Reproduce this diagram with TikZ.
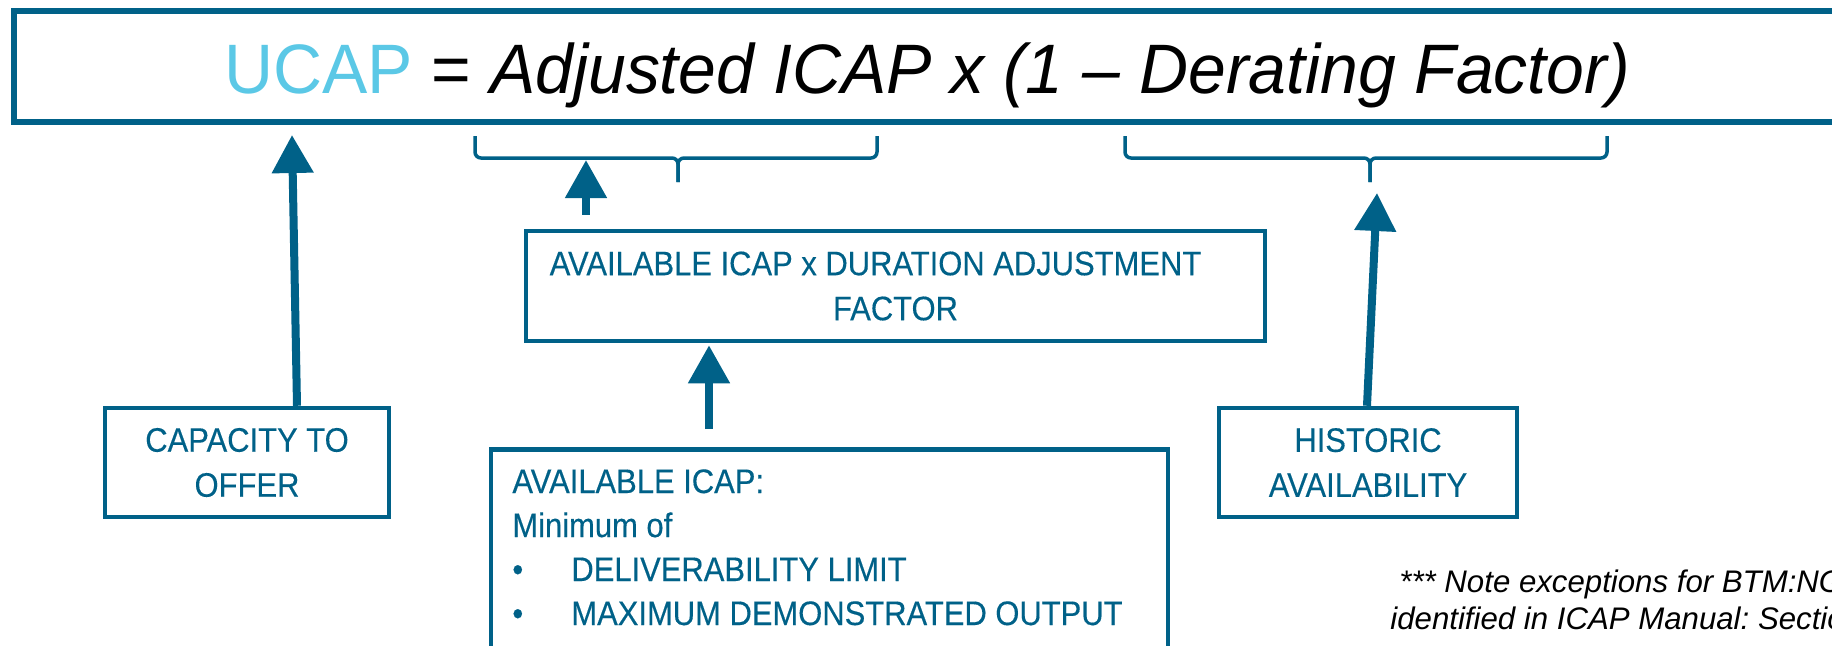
\documentclass[tikz,border=0pt]{standalone}
\usepackage{fontspec}
\setmainfont{Liberation Sans}
\newfontfamily\boxfont{Liberation Sans}[FakeStretch=0.91,FakeBold=0.3]
\newfontfamily\titlefont{Liberation Sans}[FakeStretch=0.97]
\usetikzlibrary{arrows.meta,calc}
\definecolor{boxteal}{RGB}{0,97,136}
\definecolor{ucapblue}{RGB}{91,200,230}
\frenchspacing
\tikzset{
  framebox/.style={draw=boxteal, line width=2.25pt, inner sep=0pt,
    text=boxteal, font=\boxfont\fontsize{17}{22.5}\selectfont, align=center},
  boxtext/.style={inner sep=0pt, text=boxteal,
    font=\boxfont\fontsize{17}{22}\selectfont, align=left},
  uparrow/.style={draw=boxteal, line width=4pt,
    -{Triangle[length=19pt,width=20pt]}},
  bracket/.style={draw=boxteal, line width=1.75pt, rounded corners=3pt},
  notetext/.style={inner sep=0pt, align=left,
    font=\fontsize{15.6}{18.5}\selectfont\itshape},
}
\begin{document}
\begin{tikzpicture}[x=0.5pt,y=-0.5pt]
\useasboundingbox (0,0) rectangle (1832,645);
\clip (0,0) rectangle (1832,645);

% formula banner
\node[draw=boxteal, line width=3pt, minimum width=913pt, minimum height=55.5pt,
  inner sep=0pt, text height=26.5pt, text depth=0pt,
  font=\titlefont\fontsize{35}{42}\selectfont] (title) at (927,66.5)
  {\textcolor{ucapblue}{UCAP} = \textit{Adjusted ICAP x (1 – Derating Factor)}};

% braces under the formula terms
\draw[bracket] (475,136) -- (475,158) -- (678,158) -- (678,182);
\draw[bracket] (877,136) -- (877,158) -- (678,158) -- (678,182);
\draw[bracket] (1125,136) -- (1125,158) -- (1370,158) -- (1370,182);
\draw[bracket] (1607,136) -- (1607,158) -- (1370,158) -- (1370,182);
\coordinate (adjtip) at (586,160);
\coordinate (dertip) at (1377,193);

% input boxes
\node[framebox, minimum width=142pt, minimum height=54.5pt] (cap) at (247,462.5)
  {CAPACITY TO\\OFFER};
\node[framebox, minimum width=149pt, minimum height=54.5pt] (hist) at (1368,462.5)
  {HISTORIC\\AVAILABILITY};
\node[framebox, minimum width=369.5pt, minimum height=55pt] (dur) at (895.5,286)
  {AVAILABLE ICAP x DURATION ADJUSTMENT\hspace*{20pt}\\FACTOR};
\node[framebox, anchor=north, minimum width=338.5pt, minimum height=126.5pt] (avail)
  at (829.5,447) {};
\node[boxtext, anchor=base west] (availtxt) at (512,625)
  {AVAILABLE ICAP:\\
   Minimum of\\
   \makebox[29.5pt][l]{•}DELIVERABILITY LIMIT\\
   \makebox[29.5pt][l]{•}MAXIMUM DEMONSTRATED OUTPUT};

% connectors
\draw[uparrow] ($(cap.north)+(50,0)$) -- ($(title.south)+(-635,10)$);
\draw[uparrow] ($(dur.north)+(-309.5,-14)$) -- (adjtip);
\draw[uparrow] ($(hist.north)+(-1,0)$) -- (dertip);
\draw[uparrow] ($(avail.north)+(-120.5,-18)$) -- ($(dur.south)+(-186.5,2)$);

% footnote
\node[notetext, anchor=base west] (note) at (1399,629)
  {*** Note exceptions for BTM:NG\\\hspace*{-4.5pt}identified in ICAP Manual: Section};
\end{tikzpicture}
\end{document}
